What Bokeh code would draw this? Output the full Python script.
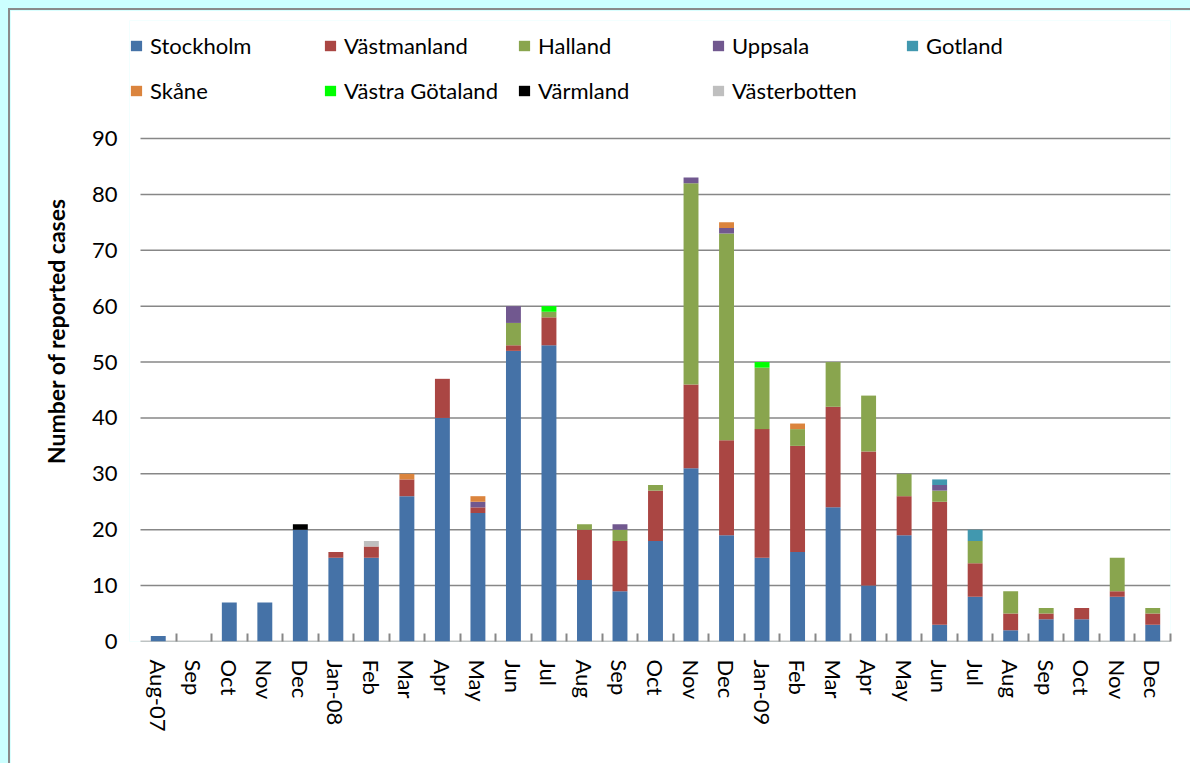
import math
from bokeh.plotting import figure
from bokeh.models import (ColumnDataSource, Legend, LegendItem, FixedTicker, Range1d)
from bokeh.embed import file_html
from bokeh.resources import INLINE

months = ["Aug-07", "Sep", "Oct", "Nov", "Dec", "Jan-08", "Feb", "Mar", "Apr", "May",
          "Jun", "Jul", "Aug", "Sep", "Oct", "Nov", "Dec", "Jan-09", "Feb", "Mar",
          "Apr", "May", "Jun", "Jul", "Aug", "Sep", "Oct", "Nov", "Dec"]

regions = ["Stockholm", "Västmanland", "Halland", "Uppsala", "Gotland",
           "Skåne", "Västra Götaland", "Värmland", "Västerbotten"]

stockholm = [1, 0, 7, 7, 20, 15, 15, 26, 40, 23, 52, 53, 11, 9, 18, 31, 19, 15, 16, 24, 10, 19, 3, 8, 2, 4, 4, 8, 3]
vastmanland = [0, 0, 0, 0, 0, 1, 2, 3, 7, 1, 1, 5, 9, 9, 9, 15, 17, 23, 19, 18, 24, 7, 22, 6, 3, 1, 2, 1, 2]
halland = [0, 0, 0, 0, 0, 0, 0, 0, 0, 0, 4, 1, 1, 2, 1, 36, 37, 11, 3, 8, 10, 4, 2, 4, 4, 1, 0, 6, 1]
uppsala = [0, 0, 0, 0, 0, 0, 0, 0, 0, 1, 3, 0, 0, 1, 0, 1, 1, 0, 0, 0, 0, 0, 1, 0, 0, 0, 0, 0, 0]
gotland = [0, 0, 0, 0, 0, 0, 0, 0, 0, 0, 0, 0, 0, 0, 0, 0, 0, 0, 0, 0, 0, 0, 1, 2, 0, 0, 0, 0, 0]
skane = [0, 0, 0, 0, 0, 0, 0, 1, 0, 1, 0, 0, 0, 0, 0, 0, 1, 0, 1, 0, 0, 0, 0, 0, 0, 0, 0, 0, 0]
vastra_gotaland = [0, 0, 0, 0, 0, 0, 0, 0, 0, 0, 0, 1, 0, 0, 0, 0, 0, 1, 0, 0, 0, 0, 0, 0, 0, 0, 0, 0, 0]
varmland = [0, 0, 0, 0, 1, 0, 0, 0, 0, 0, 0, 0, 0, 0, 0, 0, 0, 0, 0, 0, 0, 0, 0, 0, 0, 0, 0, 0, 0]
vasterbotten = [0, 0, 0, 0, 0, 0, 1, 0, 0, 0, 0, 0, 0, 0, 0, 0, 0, 0, 0, 0, 0, 0, 0, 0, 0, 0, 0, 0, 0]

y_ticks = [0, 10, 20, 30, 40, 50, 60, 70, 80, 90]

colors = ["#4572A7", "#AA4643", "#89A54E", "#71588F", "#4198AF",
          "#DB843D", "#00FF00", "#000000", "#BFBFBF"]

series = [stockholm, vastmanland, halland, uppsala, gotland, skane,
          vastra_gotaland, varmland, vasterbotten]

n = len(months)
xs = [i + 0.5 for i in range(n)]
data = {"x": xs}
keys = []
for k, s in enumerate(series):
    key = "s%d" % k
    keys.append(key)
    data[key] = s
source = ColumnDataSource(data)

FONT = "Lato"
FS = "22px"

# frame is extended upward (room for legend) and a little to the left
y_top = max(y_ticks) * 621.0 / 503.0
p = figure(width=1182, height=755, output_backend="svg", toolbar_location=None,
           x_range=Range1d(-0.31, n), y_range=Range1d(0, y_top),
           min_border_left=119, min_border_right=22, min_border_top=10,
           min_border_bottom=124)
p.outline_line_color = None
p.background_fill_color = "white"
p.border_fill_color = "white"
p.styles = {"border-top": "2px solid #8a8a8a", "border-left": "2px solid #8a8a8a"}

# horizontal gridlines spanning the category area only
p.xgrid.grid_line_color = None
p.ygrid.grid_line_color = None
p.segment(x0=[0] * len(y_ticks), x1=[n] * len(y_ticks), y0=y_ticks, y1=y_ticks,
          line_color="#878787", line_width=1.5)

renderers = p.vbar_stack(keys, x="x", width=0.42, source=source,
                         color=colors, line_color=None)

p.yaxis.ticker = FixedTicker(ticks=y_ticks)
p.yaxis.axis_line_color = None
p.yaxis.major_tick_line_color = None
p.yaxis.minor_tick_line_color = None
p.yaxis.major_tick_in = 0
p.yaxis.major_tick_out = 0
p.yaxis.major_label_standoff = 12
p.yaxis.major_label_text_font = FONT
p.yaxis.major_label_text_font_size = FS
p.yaxis.major_label_text_color = "#000000"
p.yaxis.axis_label = "Number of reported cases"
p.yaxis.axis_label_text_font = FONT
p.yaxis.axis_label_text_font_style = "bold"
p.yaxis.axis_label_text_font_size = "23px"
p.yaxis.axis_label_text_color = "#000000"
p.yaxis.axis_label_standoff = 19

p.xaxis.ticker = FixedTicker(ticks=xs, minor_ticks=list(range(1, n + 1)))
p.xaxis.major_label_overrides = {x: m for x, m in zip(xs, months)}
p.xaxis.axis_line_color = None
p.xaxis.major_tick_line_color = None
p.xaxis.minor_tick_line_color = "#878787"
p.xaxis.minor_tick_line_width = 2
p.xaxis.minor_tick_in = 8
p.xaxis.minor_tick_out = 0
p.xaxis.major_tick_out = 0
p.xaxis.major_tick_in = 0
p.xaxis.major_label_orientation = -math.pi / 2
p.xaxis.major_label_standoff = 18
p.xaxis.major_label_text_font = FONT
p.xaxis.major_label_text_font_size = FS
p.xaxis.major_label_text_color = "#000000"


def make_legend(idx, loc):
    lg = Legend(items=[LegendItem(label=regions[i], renderers=[renderers[i]]) for i in idx],
                orientation="horizontal", location=loc)
    lg.glyph_width = 14
    lg.glyph_height = 13
    lg.label_standoff = 7
    lg.label_width = 167
    lg.spacing = 6
    lg.padding = 0
    lg.margin = 0
    lg.border_line_color = None
    lg.background_fill_alpha = 0
    lg.label_text_font = FONT
    lg.label_text_font_size = FS
    lg.label_text_color = "#000000"
    return lg


p.add_layout(make_legend([0, 1, 2, 3, 4], (0, 582)))
p.add_layout(make_legend([5, 6, 7, 8], (0, 537)))

html = file_html(p, INLINE)
css = ("<style>html, body { background-color: #CCFFFF; margin: 0; padding: 0; overflow: hidden; } "
       "body { padding: 8px 0 0 8px; }</style></head>")
html = html.replace("</head>", css, 1)
open("out.html", "w").write(html)
